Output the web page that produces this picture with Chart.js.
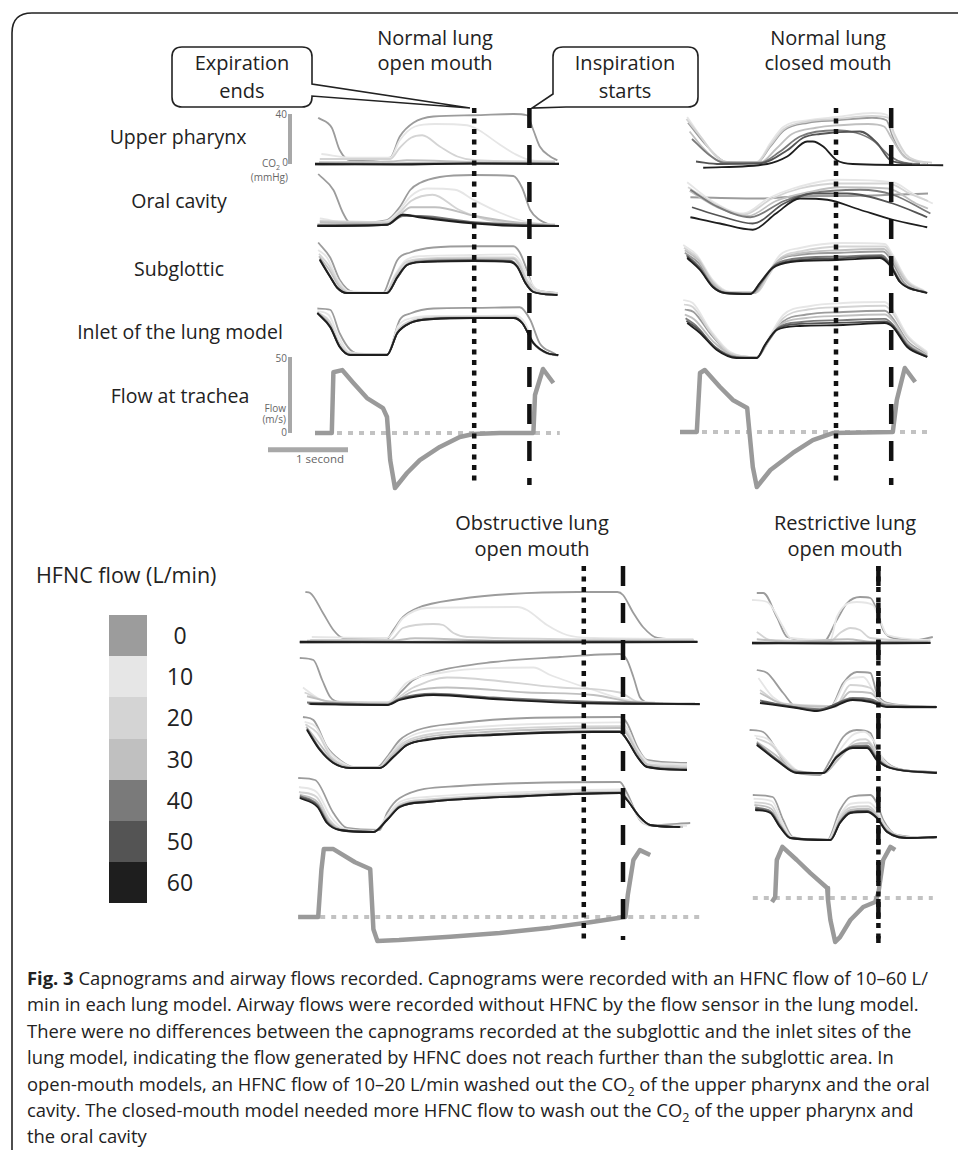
<!DOCTYPE html>
<html>
<head>
<meta charset="utf-8">
<script src="https://cdn.jsdelivr.net/npm/chart.js@4.4.1/dist/chart.umd.min.js"></script>
<style>
  body { margin: 0; background: #fff; font-family: "Open Sans", sans-serif; color: #222; }
  #fig { position: relative; width: 958px; height: 1150px; overflow: hidden; }
  canvas { position: absolute; }
  .t { position: absolute; white-space: nowrap; transform: translate(-50%, -50%); line-height: 1; }
  .ttl { font-size: 20px; }
  .row { font-size: 19.5px; }
  .sm { font-size: 10px; color: #666; }
  .r { transform: translate(-100%, -50%); }
  .sw { position: absolute; left: 109px; width: 38px; }
  .cap { position: absolute; left: 27px; top: 965px; font-size: 18.4px; line-height: 26.4px; color: #222; }
  .cap div { white-space: nowrap; }
  .cap sub { line-height: 0; font-size: 0.68em; }
  svg { position: absolute; left: 0; top: 0; }
</style>
</head>
<body>
<div id="fig">
  <svg width="958" height="1150">
    <path d="M12 1150 L12 33 Q12 13 32 13 L958 13" fill="none" stroke="#222" stroke-width="1.6"/>
    <path d="M182 47 H302 Q312 47 312 57 V84 L470 108 L312 96 V97 Q312 107 302 107 H182 Q172 107 172 97 V57 Q172 47 182 47 Z" fill="#fff" stroke="#222" stroke-width="1.6"/>
    <path d="M563 47 H688 Q698 47 698 57 V97 Q698 107 688 107 H566 L532 108 L553 94 V57 Q553 47 563 47 Z" fill="#fff" stroke="#222" stroke-width="1.6"/>
  </svg>

  <div class="t ttl" style="left:435px;top:38px">Normal lung</div>
  <div class="t ttl" style="left:435px;top:63px">open mouth</div>
  <div class="t ttl" style="left:828px;top:38px">Normal lung</div>
  <div class="t ttl" style="left:828px;top:63px">closed mouth</div>
  <div class="t ttl" style="left:532px;top:523px">Obstructive lung</div>
  <div class="t ttl" style="left:532px;top:549px">open mouth</div>
  <div class="t ttl" style="left:845px;top:523px">Restrictive lung</div>
  <div class="t ttl" style="left:845px;top:549px">open mouth</div>

  <div class="t ttl" style="left:242px;top:63px">Expiration</div>
  <div class="t ttl" style="left:242px;top:91px">ends</div>
  <div class="t ttl" style="left:625px;top:63px">Inspiration</div>
  <div class="t ttl" style="left:625px;top:91px">starts</div>

  <div class="t row" style="left:178px;top:137px">Upper pharynx</div>
  <div class="t row" style="left:179px;top:201px">Oral cavity</div>
  <div class="t row" style="left:179px;top:269px">Subglottic</div>
  <div class="t row" style="left:180px;top:332px">Inlet of the lung model</div>
  <div class="t row" style="left:180px;top:396px">Flow at trachea</div>

  <div class="t sm r" style="left:287px;top:114px">40</div>
  <div class="t sm r" style="left:288px;top:162px">0</div>
  <div class="t sm r" style="left:280px;top:164px">CO<sub style="font-size:7px">2</sub></div>
  <div class="t sm r" style="left:288px;top:177px">(mmHg)</div>
  <div class="t sm r" style="left:287px;top:358px">50</div>
  <div class="t sm r" style="left:287px;top:432px">0</div>
  <div class="t sm r" style="left:286px;top:408px">Flow</div>
  <div class="t sm r" style="left:286px;top:419px">(m/s)</div>
  <div class="t sm" style="left:320px;top:459px;font-size:11.5px">1 second</div>

  <div class="t" style="left:36px;top:575px;transform:translate(0,-50%);font-size:21.5px">HFNC flow (L/min)</div>
  <div id="legend"></div>

  <div class="cap">
    <div><b>Fig. 3</b> Capnograms and airway flows recorded. Capnograms were recorded with an HFNC flow of 10–60 L/</div>
    <div>min in each lung model. Airway flows were recorded without HFNC by the flow sensor in the lung model.</div>
    <div>There were no differences between the capnograms recorded at the subglottic and the inlet sites of the</div>
    <div>lung model, indicating the flow generated by HFNC does not reach further than the subglottic area. In</div>
    <div>open-mouth models, an HFNC flow of 10–20 L/min washed out the CO<sub>2</sub> of the upper pharynx and the oral</div>
    <div>cavity. The closed-mouth model needed more HFNC flow to wash out the CO<sub>2</sub> of the upper pharynx and</div>
    <div>the oral cavity</div>
  </div>
</div>

<script>
// scale of the drawing
const SEC_PX = 80;      // px per second
const CO2_PX = 1.25;    // px per mmHg
const FLOW_PX = 1.52;   // px per m/s

// HFNC flow levels and their grey shades
const flowLevels = [0, 10, 20, 30, 40, 50, 60];
const levelColors = ['#9c9c9c', '#e6e6e6', '#d4d4d4', '#c0c0c0', '#7a7a7a', '#545454', '#1e1e1e'];

// ---------- Normal lung, open mouth  (time s, CO2 mmHg / flow m/s) ----------
const noUpper = [
  [[0.04,37],[0.21,29],[0.31,11],[0.44,3],[0.94,5],[1.06,22],[1.23,33],[1.48,38],[1.98,39],[2.48,40],[2.65,39],[2.73,27],[2.81,14],[2.94,6],[3.03,3]],
  [[0.08,8],[0.5,5],[0.94,5],[1.06,19],[1.25,30],[1.5,32],[1.9,31],[2.05,27],[2.3,16],[2.5,8],[2.7,3],[3.0,2]],
  [[0.06,4],[0.94,4],[1.06,13],[1.2,21],[1.34,23],[1.56,14],[1.78,6],[2.0,3],[3.0,2]],
  [[0.05,1.5],[0.94,2],[1.15,3],[2.0,1.5],[3.0,1]],
  [[0.0,0.5],[1.5,0],[3.05,0.5]],
  [[0.0,-0.5],[1.5,0.5],[3.05,0]],
  [[0.0,0],[1.0,-0.5],[2.0,0.5],[3.05,0]]
];
const noOral = [
  [[0.04,41.6],[0.23,28.8],[0.35,10.4],[0.44,2.4],[0.9,4.8],[1.06,15.2],[1.19,28.8],[1.31,34.4],[1.56,39.2],[1.98,40.8],[2.48,40],[2.59,30.4],[2.69,12.8],[2.81,4.8],[2.98,0]],
  [[0.06,6],[0.5,2],[0.9,4],[1.06,13],[1.2,24],[1.4,30],[1.75,29],[1.98,21],[2.3,11],[2.6,4],[3.0,1]],
  [[0.06,4],[0.9,3],[1.06,11],[1.2,20],[1.47,25],[1.8,13],[2.15,5],[3.0,1]],
  [[0.06,3],[0.9,2],[1.06,9],[1.2,15],[1.5,15],[2.0,8],[2.5,3],[3.0,1]],
  [[0.03,1],[0.9,1],[1.1,8],[1.3,8],[2.0,3],[2.6,1],[3.05,0]],
  [[0.03,0],[0.9,1],[1.1,9],[1.25,8],[2.0,2.5],[3.05,0]],
  [[0.03,0],[0.9,1],[1.1,9],[1.3,7],[2.0,2],[2.6,0],[3.05,0]]
];
const noSub = [
  [[0.04,42],[0.19,30],[0.31,12],[0.48,2.4],[0.85,1.6],[0.94,14],[1.03,28],[1.19,34],[1.48,38],[1.98,39],[2.48,39],[2.56,34],[2.65,20],[2.73,6],[2.9,2.4],[3.03,1.6]],
  [[0.04,36],[0.15,30],[0.28,13],[0.42,3],[0.88,2],[1.0,16],[1.12,27],[1.3,31],[1.98,32],[2.48,32.5],[2.56,28],[2.66,15],[2.76,5],[2.95,2],[3.03,1.5]],
  [[0.05,33],[0.17,24],[0.3,9],[0.42,2],[0.88,1.6],[1.0,15],[1.13,26],[1.35,29],[1.98,30],[2.48,30],[2.56,25],[2.65,12],[2.76,4],[3.03,1]],
  [[0.05,31],[0.18,20],[0.3,7],[0.42,1.6],[0.9,1.6],[1.02,15],[1.15,25],[1.35,28],[1.98,29],[2.48,29],[2.55,24],[2.64,11],[2.74,3],[3.03,0.8]],
  [[0.06,29],[0.19,15],[0.28,6],[0.4,1.6],[0.9,1.6],[1.03,14],[1.15,24],[1.35,27],[1.98,28],[2.44,27.5],[2.53,23],[2.63,10],[2.73,2.4],[3.03,0]],
  [[0.06,28.5],[0.19,14.5],[0.28,5.6],[0.4,1.6],[0.9,1.6],[1.03,14],[1.15,24],[1.35,26.5],[1.98,27.5],[2.44,27],[2.53,22.5],[2.63,9.6],[2.73,2.4],[3.03,0]],
  [[0.06,28],[0.19,14.4],[0.28,5.6],[0.4,1.6],[0.9,1.6],[1.03,14.4],[1.15,24],[1.35,26.4],[1.98,27.2],[2.44,26.4],[2.53,22.4],[2.63,9.6],[2.73,2.4],[3.03,0]]
];
const noInlet = [
  [[0.03,38],[0.19,37],[0.31,18],[0.44,5],[0.6,1],[0.9,1],[1.06,29],[1.19,34],[1.48,38],[1.98,38.5],[2.56,39],[2.69,29],[2.81,10],[2.98,2.4],[3.04,0]],
  [[0.03,36],[0.17,33],[0.3,15],[0.43,3],[0.9,1],[1.04,24],[1.19,30],[1.48,32],[1.98,32],[2.5,32.5],[2.62,27],[2.74,10],[2.9,2.4],[3.04,0.5]],
  [[0.03,35],[0.18,28],[0.3,11],[0.44,2],[0.9,1],[1.04,21],[1.19,28],[1.48,31],[1.98,31.5],[2.5,31.5],[2.6,26],[2.73,10],[2.9,2],[3.04,0.5]],
  [[0.03,35],[0.19,25],[0.31,8],[0.44,1],[0.9,1],[1.03,19],[1.19,27],[1.48,30.5],[1.98,31],[2.5,31],[2.6,26],[2.73,10],[2.9,2],[3.04,0.5]],
  [[0.03,34.5],[0.19,23.5],[0.31,7.5],[0.44,1],[0.9,1],[1.03,18.5],[1.19,26.5],[1.48,30],[1.98,30.5],[2.48,30.5],[2.59,26.5],[2.73,10.5],[2.9,2.4],[3.04,0.8]],
  [[0.03,34],[0.19,23],[0.31,7],[0.44,0.8],[0.9,0.8],[1.03,18.4],[1.19,26.4],[1.48,29.6],[1.98,30.4],[2.48,30.4],[2.59,26.4],[2.73,10.4],[2.9,2.4],[3.04,0.8]],
  [[0.03,34.4],[0.19,23.2],[0.31,7.2],[0.44,0.8],[0.9,0.8],[1.03,18.4],[1.19,26.4],[1.48,29.6],[1.98,30.4],[2.48,30.4],[2.59,26.4],[2.73,10.4],[2.9,2.4],[3.04,0.8]]
];
const noFlow = [[0,0],[0.21,0],[0.23,40],[0.34,41.4],[0.48,32.9],[0.65,23],[0.85,16.4],[0.9,10.5],[0.94,-17.8],[1.0,-36.2],[1.15,-26.3],[1.31,-17.8],[1.56,-9.2],[1.81,-2.6],[1.98,-0.7],[2.31,0],[2.73,0],[2.75,25],[2.85,42.1],[2.98,32.9]];
const noEvents = [1.99, 2.68];     // expiration ends, inspiration starts
const noZero = [0, 3.06];

// ---------- Normal lung, closed mouth ----------
const ncUpper = [
  [[0.1,33],[0.3,17],[0.5,4],[0.6,1],[0.96,1],[1.13,14],[1.3,27],[1.6,33],[1.96,35],[2.4,37],[2.58,35],[2.66,22],[2.8,7],[2.95,2],[3.1,0.5]],
  [[0.09,37.6],[0.29,19.2],[0.46,5.6],[0.59,1.6],[0.96,1.6],[1.13,16.8],[1.29,29.6],[1.63,35.2],[1.96,37.6],[2.41,40.8],[2.59,39.2],[2.66,24.8],[2.79,8.8],[2.91,3.2],[3.09,0.8]],
  [[0.08,36],[0.28,20],[0.45,6],[0.6,1.5],[0.96,1.5],[1.13,15],[1.3,28],[1.6,34],[1.96,36],[2.4,38.5],[2.6,37],[2.68,24],[2.82,8],[2.95,3],[3.15,1]],
  [[0.12,26],[0.3,12],[0.5,2],[1.0,1],[1.2,12],[1.4,24],[1.7,29],[2.0,31],[2.35,32],[2.55,30],[2.65,20],[2.8,6],[3.0,1]],
  [[0.15,20],[0.35,8],[0.55,1],[1.0,1],[1.25,10],[1.5,22],[1.96,27],[2.2,25],[2.41,19],[2.63,6],[2.8,1],[3.0,0]],
  [[0.2,2],[0.5,0],[1.0,0.5],[1.34,11],[1.54,21],[1.75,24],[2.25,26],[2.46,17],[2.63,3],[2.9,0]],
  [[0.29,-3],[1.09,0],[1.34,6],[1.59,18],[1.66,18],[1.79,14],[1.96,3],[2.16,0],[3.29,-1]]
];
const ncOral = [
  [[0.13,23],[1.0,22],[1.6,24],[2.0,24],[3.1,26]],
  [[0.09,35],[0.4,20],[0.79,10],[1.1,22],[1.41,30],[1.96,37],[2.66,35],[2.91,26],[3.16,18]],
  [[0.1,31],[0.45,17],[0.8,9],[1.15,22],[1.5,30],[2.0,34],[2.6,34],[2.9,25],[3.1,20]],
  [[0.12,28],[0.5,14],[0.85,8],[1.2,20],[1.6,27],[2.0,31],[2.6,30],[2.95,18],[3.1,14]],
  [[0.13,29],[0.45,16],[0.88,7],[1.3,20],[1.63,26],[2.25,29],[2.66,25],[3.13,10]],
  [[0.15,15],[0.5,8],[0.91,2],[1.3,18],[1.66,26],[2.09,26],[2.66,18],[3.09,7]],
  [[0.13,7],[0.5,2],[0.91,-3],[1.2,10],[1.5,22],[1.84,21],[2.25,13],[2.66,5],[3.09,-1]]
];
const ncSub = [
  [[0.06,33],[0.23,25],[0.41,8],[0.6,1],[0.94,1],[1.07,12],[1.22,26],[1.45,31],[2.0,33],[2.54,34],[2.64,27],[2.8,9],[3.06,1.5]],
  [[0.04,39.2],[0.21,31.2],[0.41,11.2],[0.63,1.6],[0.96,1.6],[1.09,15.2],[1.25,31.2],[1.5,36.8],[2.04,40.8],[2.56,40],[2.66,31.2],[2.84,11.2],[3.06,2.4]],
  [[0.05,37],[0.22,29],[0.41,10],[0.62,1.5],[0.96,1.5],[1.1,14],[1.26,29],[1.5,34],[2.04,38],[2.56,38],[2.66,29],[2.84,10],[3.06,2]],
  [[0.06,35],[0.23,27],[0.41,9],[0.6,1],[0.94,1],[1.07,13],[1.23,27],[1.46,32],[2.0,35],[2.55,36],[2.65,28],[2.82,10],[3.06,1.5]],
  [[0.08,31],[0.24,22],[0.41,6],[0.58,1],[0.9,0.5],[1.03,10],[1.18,23],[1.4,28],[1.98,30],[2.52,31],[2.63,24],[2.77,9],[3.08,1]],
  [[0.09,30],[0.25,20],[0.41,6],[0.56,0.8],[0.88,0],[1.0,9],[1.16,21.5],[1.38,26.5],[1.96,28.5],[2.5,30],[2.63,23],[2.75,9.6],[3.09,1]],
  [[0.09,28.8],[0.25,19.2],[0.41,5.6],[0.56,0.8],[0.88,0],[1.0,8.8],[1.16,20.8],[1.38,25.6],[1.96,27.2],[2.5,28.8],[2.63,22.4],[2.75,9.6],[2.94,3.2],[3.09,0.8]]
];
const ncInlet = [
  [[0.06,38],[0.17,36],[0.4,17],[0.65,2],[0.96,0],[1.12,14],[1.28,28],[1.58,34],[2.04,36],[2.56,37],[2.66,31],[2.84,13],[3.09,2]],
  [[0.04,45.6],[0.16,43.2],[0.38,21.6],[0.63,4],[0.96,0],[1.13,17.6],[1.29,33.6],[1.63,40.8],[2.04,43.2],[2.56,44],[2.66,37.6],[2.84,17.6],[3.09,4]],
  [[0.05,42],[0.16,40],[0.38,20],[0.63,3],[0.96,0],[1.13,16],[1.29,31],[1.6,38],[2.04,40],[2.56,41],[2.66,35],[2.84,16],[3.09,3]],
  [[0.06,34],[0.18,30],[0.42,12],[0.67,1],[0.96,-0.5],[1.1,13],[1.26,26],[1.55,31],[2.04,33],[2.56,34],[2.66,29],[2.84,12],[3.09,1]],
  [[0.07,31],[0.2,25],[0.44,8],[0.7,0],[0.96,-0.5],[1.08,11],[1.24,24],[1.52,28],[2.04,29.5],[2.56,30.5],[2.66,26],[2.84,10],[3.09,0.5]],
  [[0.08,29],[0.23,22],[0.45,7],[0.7,-0.5],[0.96,-0.8],[1.07,10],[1.22,22.5],[1.5,26.5],[2.04,27.5],[2.56,28.5],[2.66,25],[2.84,9],[3.09,0]],
  [[0.09,27.2],[0.25,19.2],[0.46,5.6],[0.71,-0.8],[0.96,-0.8],[1.06,9.6],[1.21,21.6],[1.5,24.8],[2.04,25.6],[2.56,27.2],[2.66,24],[2.84,8],[3.09,0]]
];
const ncFlow = [[0,0],[0.21,0],[0.25,38.8],[0.31,40.8],[0.5,29.6],[0.66,21.1],[0.84,15.8],[0.85,9.9],[0.91,-23],[0.96,-36.2],[1.13,-25],[1.41,-13.8],[1.66,-5.3],[1.91,-0.7],[2.66,0],[2.71,21.1],[2.81,42.1],[2.94,32.9]];
const ncEvents = [1.95, 2.64];
const ncZero = [0, 3.1];

// ---------- Obstructive lung, open mouth ----------
const obUpper = [
  [[0.13,40],[0.19,39.2],[0.35,23.2],[0.48,9.6],[0.6,3.2],[1.15,2.4],[1.23,9.6],[1.35,20],[1.53,27.2],[2.06,34.4],[2.69,38.4],[3.53,40],[4.03,40],[4.1,37.6],[4.23,23.2],[4.35,12],[4.53,3.2],[4.98,1.6]],
  [[0.21,4],[1.15,3.2],[1.35,19.2],[1.65,27.2],[2.78,28],[2.9,25.6],[3.15,13.6],[3.4,5.6],[3.73,3.2],[4.98,2.4]],
  [[0.19,1.6],[1.19,1.6],[1.35,11.2],[1.73,14.4],[1.85,13.6],[1.98,7.2],[2.15,4],[4.98,1.6]],
  [[0.15,1],[1.2,1],[1.5,3],[2.5,1],[5.0,0.5]],
  [[0.06,0.5],[2.5,0],[5.03,0.5]],
  [[0.06,-0.5],[2.5,0.5],[5.03,0]],
  [[0.06,0],[2.5,-0.5],[5.03,0]]
];
const obOral = [
  [[0.06,37.6],[0.23,36],[0.34,20],[0.44,6.4],[0.56,2.4],[1.15,1.6],[1.31,9.6],[1.48,20],[1.73,26.4],[2.48,34.4],[3.31,38.4],[4.06,40.8],[4.15,36],[4.23,22.4],[4.31,6.4],[4.4,1.6]],
  [[0.1,14],[0.3,5],[0.6,2],[1.15,2],[1.4,18],[1.85,26],[2.98,30],[3.19,24],[3.73,12],[4.15,4],[4.5,2]],
  [[0.12,10],[0.4,3],[1.15,2],[1.48,14],[1.9,22],[3.31,14],[4.06,10],[4.31,2],[4.6,1]],
  [[0.15,7],[0.5,2],[1.15,1],[1.48,11],[1.9,14],[2.9,10],[3.73,8],[4.26,2],[4.6,1]],
  [[0.15,2],[1.15,0.5],[1.3,5],[1.73,9],[2.48,6],[3.5,3],[5.0,1]],
  [[0.17,1],[1.15,0],[1.31,4.5],[1.73,8.5],[2.48,5.4],[3.53,2],[5.06,0.5]],
  [[0.19,0.8],[1.15,0],[1.31,4],[1.73,8],[2.48,4.8],[3.53,1.6],[5.06,0.8]]
];
const obSub = [
  [[0.1,40.8],[0.23,38.4],[0.4,16.8],[0.56,6.4],[0.73,0.8],[1.03,0.8],[1.15,8.8],[1.31,22.4],[1.53,30.4],[2.06,36],[2.9,40],[4.06,40.8],[4.15,36],[4.28,16.8],[4.4,6.4],[4.9,4]],
  [[0.12,37],[0.26,33],[0.42,14],[0.6,4],[0.75,0.5],[1.05,0.5],[1.17,9],[1.33,21],[1.55,28],[2.1,32],[2.9,35],[4.06,36.5],[4.15,32],[4.28,15],[4.42,5],[4.9,3]],
  [[0.13,35],[0.28,28],[0.44,10],[0.62,2],[0.73,0],[1.05,0],[1.18,9],[1.35,20],[1.6,26],[2.2,30],[3.0,32.5],[4.06,33.5],[4.15,29],[4.28,13],[4.42,3],[4.9,1.5]],
  [[0.14,33],[0.3,20],[0.46,7],[0.65,1],[1.05,0],[1.2,9],[1.37,19],[1.62,24.5],[2.3,28.5],[3.2,31],[4.06,32],[4.15,27],[4.28,12],[4.42,2],[4.9,0]],
  [[0.15,31.5],[0.31,15.5],[0.48,4.5],[0.69,0],[1.06,0],[1.23,9],[1.4,18.5],[1.65,23],[2.48,27],[3.73,29.5],[4.06,29.5],[4.15,23],[4.28,9.5],[4.4,1],[4.9,-1]],
  [[0.15,31],[0.31,15],[0.48,4],[0.69,0],[1.06,0],[1.23,9],[1.4,18.5],[1.65,22.8],[2.48,26.8],[3.73,29],[4.06,29],[4.15,22.8],[4.28,9],[4.4,1],[4.9,-1.5]],
  [[0.15,30.4],[0.31,14.4],[0.48,4],[0.69,0],[1.06,0],[1.23,8.8],[1.4,18.4],[1.65,22.4],[2.48,26.4],[3.73,28.8],[4.06,28.8],[4.15,22.4],[4.28,8.8],[4.4,0.8],[4.9,-1.6]]
];
const obInlet = [
  [[0.04,43.2],[0.25,41.6],[0.48,15.2],[0.65,3.2],[1.06,1.6],[1.15,15.2],[1.31,27.2],[2.06,36.8],[4.06,40],[4.15,31.2],[4.31,9.6],[4.44,5.6],[4.94,7.2]],
  [[0.05,36],[0.27,32],[0.45,12],[0.62,2.5],[1.0,1],[1.15,13],[1.31,24],[1.65,28],[2.9,32],[4.06,34],[4.15,28],[4.31,10],[4.44,5],[4.9,5]],
  [[0.05,32],[0.27,28],[0.43,10],[0.6,2],[0.99,0.5],[1.15,11],[1.31,22],[1.65,26],[2.9,30.5],[4.06,32.5],[4.15,27],[4.31,11],[4.44,5],[4.85,4.5]],
  [[0.06,30],[0.28,24],[0.42,9],[0.58,2],[0.98,0],[1.15,10],[1.31,21],[1.65,25],[2.9,29.5],[4.06,32],[4.15,26.5],[4.31,12],[4.44,5.5],[4.85,4]],
  [[0.06,29],[0.28,22],[0.41,8],[0.57,1.6],[0.98,0],[1.15,10],[1.31,20.5],[1.65,24.5],[2.9,29],[4.06,31.5],[4.15,26],[4.31,12],[4.44,5.6],[4.82,4]],
  [[0.06,28],[0.28,21],[0.4,7.5],[0.56,1.6],[0.98,0],[1.15,9.6],[1.31,20],[1.65,24],[2.9,28.8],[4.06,31.2],[4.15,25.6],[4.31,12],[4.44,5.6],[4.81,4]],
  [[0.06,27.2],[0.28,20],[0.4,7.2],[0.56,1.6],[0.98,0],[1.15,9.6],[1.31,20],[1.65,24],[2.9,28.8],[4.06,31.2],[4.15,25.6],[4.31,12],[4.44,5.6],[4.81,4]]
];
const obFlow = [[0.04,0],[0.29,0],[0.33,31],[0.36,44.7],[0.48,44.7],[0.75,36],[0.94,31.6],[0.98,-8],[1.03,-15.8],[1.3,-15.2],[1.94,-13],[2.56,-10.5],[3.19,-7],[3.69,-3.5],[4.0,-1],[4.13,0],[4.16,14.5],[4.23,37.5],[4.31,44],[4.44,40.8]];
const obEvents = [3.61, 4.1];
const obZero = [0.04, 5.06];

// ---------- Restrictive lung, open mouth ----------
const reUpper = [
  [[0.06,40],[0.14,40],[0.31,20.8],[0.44,4.8],[0.89,0.8],[1.06,18.4],[1.19,32],[1.35,36.8],[1.48,36],[1.56,26.4],[1.64,10.4],[1.76,4],[2.06,2.4],[2.26,4.8]],
  [[0,34.4],[0.19,32.8],[0.39,12.8],[0.48,4],[0.98,2.4],[1.06,20.8],[1.31,32.8],[1.51,30.4],[1.6,18.4],[1.69,6.4],[2.23,2.4]],
  [[0.06,8.8],[0.23,2.4],[0.98,1.6],[1.1,8],[1.23,12],[1.35,10.4],[1.48,4],[2.23,1.6]],
  [[0.06,3],[0.5,1],[1.2,3],[1.5,1],[2.2,1]],
  [[0,0.5],[1.0,0],[2.23,0.5]],
  [[0,-0.5],[1.0,0.5],[2.23,0]],
  [[0,0],[1.0,-0.5],[2.23,0]]
];
const reOral = [
  [[0.06,30.4],[0.19,28],[0.39,12],[0.56,0.8],[0.98,0.8],[1.14,20],[1.31,28.8],[1.48,28],[1.56,12],[1.69,4],[2.31,0.8]],
  [[0.08,24],[0.26,8.8],[0.6,0.8],[0.98,0.8],[1.19,22.4],[1.39,24.8],[1.56,8.8],[1.73,0.8]],
  [[0.1,14.4],[0.35,4],[1.04,1.6],[1.23,18.4],[1.48,16],[1.64,4],[2.31,0.8]],
  [[0.1,12],[0.4,3],[1.04,1],[1.23,13],[1.48,12],[1.65,3],[2.31,0.5]],
  [[0.1,6],[0.5,1],[0.85,-1],[1.26,8],[1.48,7],[1.7,2],[2.3,1]],
  [[0.12,5],[0.55,0.5],[0.8,-2],[1.26,7],[1.5,5.5],[1.7,1],[2.3,0.5]],
  [[0.1,4],[0.56,0],[0.81,-2.4],[0.98,0],[1.26,6.4],[1.48,4.8],[1.69,0.8],[2.31,0.8]]
];
const reSub = [
  [[-0.03,34.4],[0.14,32.8],[0.31,18.4],[0.44,4.8],[0.56,0],[0.85,-1.6],[0.98,10.4],[1.14,28.8],[1.31,34.4],[1.48,32],[1.56,18.4],[1.69,8],[1.89,2.4],[2.31,0.8]],
  [[0.03,30],[0.2,27],[0.4,12],[0.6,1],[0.9,0],[1.05,14],[1.25,30],[1.4,33],[1.52,26],[1.65,10],[1.9,2],[2.3,0.5]],
  [[0.05,28],[0.25,22],[0.42,9],[0.6,0.5],[0.9,0],[1.08,12],[1.3,26],[1.42,27],[1.55,18],[1.7,6],[2.3,0.5]],
  [[0.06,25],[0.3,14],[0.5,3],[0.9,0],[1.08,11],[1.28,23],[1.45,24],[1.56,14],[1.72,4],[2.3,0]],
  [[0.06,24],[0.33,10],[0.54,1],[0.89,0],[1.06,13.5],[1.26,21.5],[1.44,22],[1.56,12],[1.72,4.5],[2.31,0.5]],
  [[0.06,23],[0.34,9],[0.55,0.5],[0.89,0],[1.06,13],[1.26,20.8],[1.44,21],[1.56,11],[1.73,4],[2.31,0]],
  [[0.06,22.4],[0.35,8],[0.56,0],[0.89,0],[1.06,12.8],[1.26,20],[1.44,20],[1.56,10.4],[1.73,4],[2.31,0]]
];
const reInlet = [
  [[0.01,36],[0.26,34.4],[0.39,16],[0.51,2.4],[0.94,0],[1.1,24],[1.23,34.4],[1.48,36],[1.56,29.6],[1.64,16],[1.81,4],[2.31,1.6]],
  [[0.02,33],[0.25,31],[0.38,14],[0.5,2],[0.95,0],[1.1,20],[1.23,29],[1.46,30],[1.56,24],[1.66,12],[1.85,3],[2.31,1.5]],
  [[0.03,30],[0.24,28],[0.37,12],[0.49,2],[0.96,0],[1.1,18],[1.23,26],[1.45,27],[1.56,21],[1.67,10],[1.9,2.5],[2.31,1.5]],
  [[0.03,28],[0.24,25],[0.36,11],[0.49,1.8],[0.97,0],[1.1,16],[1.23,24],[1.45,25],[1.56,19.5],[1.68,8],[1.95,2],[2.31,2]],
  [[0.04,26],[0.23,23],[0.36,11],[0.48,1.6],[0.98,0],[1.1,14.5],[1.23,22.5],[1.44,23.5],[1.56,18],[1.69,7],[1.98,1.6],[2.31,2.4]],
  [[0.04,25],[0.23,22],[0.35,10.5],[0.48,1.6],[0.98,0],[1.1,14],[1.23,22],[1.44,23],[1.56,17.8],[1.69,6.4],[1.98,1.6],[2.31,2.4]],
  [[0.04,24],[0.23,21.6],[0.35,10.4],[0.48,1.6],[0.98,0],[1.1,13.6],[1.23,21.6],[1.44,22.4],[1.56,17.6],[1.69,6.4],[1.98,1.6],[2.31,2.4]]
];
const reFlow = [[0.25,-2.6],[0.29,0.7],[0.31,25],[0.38,33.6],[0.56,25],[0.73,16.4],[0.94,6.6],[0.95,-1.3],[0.98,-14.5],[1.04,-28.9],[1.1,-25.7],[1.23,-14.5],[1.39,-5.9],[1.54,-2.6],[1.58,3.3],[1.64,25],[1.73,33.6],[1.79,31.6]];
const reEvents = [1.58, 1.58];
const reZero = [0.01, 2.26];

// scale bars of the first panel
const CO2_BAR = 40;
const FLOW_BAR = 50;
const SEC_BAR = 1;

// ---------- layout (px on the page) ----------
const layout = {
  no: { left: 255, top: 100, width: 320, height: 395, x0: 315, rows: [164, 226, 295, 356, 433], lines: [108, 485] },
  nc: { left: 670, top: 100, width: 285, height: 395, x0: 680, rows: [164, 226, 294, 357, 432], lines: [108, 485] },
  ob: { left: 290, top: 555, width: 420, height: 400, x0: 295, rows: [642, 705, 768, 832, 917], lines: [566, 940] },
  re: { left: 745, top: 555, width: 200, height: 400, x0: 752, rows: [643, 708, 773, 840, 898], lines: [566, 943] }
};
const barT = (290 - 315) / SEC_PX;        // where the vertical scale bars sit
const secBarT = (268 - 315) / SEC_PX;
const secBarLevel = -11;                  // flow units below zero

function pts(a) { return a.map(p => ({ x: p[0], y: p[1] })); }

function buildPanel(p, rows, flow, events, zero, extras) {
  const cv = document.createElement('canvas');
  cv.width = p.width;
  cv.height = p.height;
  cv.style.left = p.left + 'px';
  cv.style.top = p.top + 'px';
  document.getElementById('fig').appendChild(cv);

  const scales = {
    x: { type: 'linear', axis: 'x', display: false, min: (p.left - p.x0) / SEC_PX, max: (p.left + p.width - p.x0) / SEC_PX },
    yv: { type: 'linear', axis: 'y', display: false, reverse: true, min: 0, max: p.height }
  };
  p.rows.forEach((base, i) => {
    const k = i === 4 ? FLOW_PX : CO2_PX;
    const b = base - p.top;
    scales['y' + i] = { type: 'linear', axis: 'y', display: false, min: -(p.height - b) / k, max: b / k };
  });

  const ds = [];
  // event lines on top: dotted = expiration ends, dashed = inspiration starts
  events.forEach((t, i) => {
    ds.push({
      data: [{ x: t, y: p.lines[0] - p.top }, { x: t, y: p.lines[1] - p.top }],
      yAxisID: 'yv', borderColor: '#111', borderWidth: 4.5,
      borderDash: i === 0 ? [5, 5.5] : [20, 17], borderCapStyle: 'butt'
    });
  });
  ds.push({ data: pts(flow), yAxisID: 'y4', borderColor: '#9a9a9a', borderWidth: 4.5, tension: 0, borderJoinStyle: 'round' });
  ds.push({ data: pts([[zero[0], 0], [zero[1], 0]]), yAxisID: 'y4', borderColor: '#c2c2c2', borderWidth: 4, borderDash: [5, 6], borderCapStyle: 'butt' });
  rows.forEach((series, r) => {
    for (let i = series.length - 1; i >= 0; i--) {
      ds.push({ data: pts(series[i]), yAxisID: 'y' + r, borderColor: levelColors[i], borderWidth: 1.8, cubicInterpolationMode: 'monotone' });
    }
  });
  (extras || []).forEach(e => ds.push(e));

  new Chart(cv, {
    type: 'line',
    data: { datasets: ds },
    options: {
      responsive: false,
      animation: false,
      events: [],
      layout: { padding: 0 },
      elements: { point: { radius: 0 }, line: { borderJoinStyle: 'round' } },
      plugins: { legend: { display: false }, tooltip: { enabled: false } },
      scales: scales
    }
  });
}

buildPanel(layout.no, [noUpper, noOral, noSub, noInlet], noFlow, noEvents, noZero, [
  { data: pts([[barT, 0], [barT, CO2_BAR]]), yAxisID: 'y0', borderColor: '#a8a8a8', borderWidth: 4, borderCapStyle: 'butt' },
  { data: pts([[barT, 0], [barT, FLOW_BAR]]), yAxisID: 'y4', borderColor: '#a8a8a8', borderWidth: 4, borderCapStyle: 'butt' },
  { data: pts([[secBarT, secBarLevel], [secBarT + SEC_BAR, secBarLevel]]), yAxisID: 'y4', borderColor: '#a8a8a8', borderWidth: 5, borderCapStyle: 'butt' }
]);
buildPanel(layout.nc, [ncUpper, ncOral, ncSub, ncInlet], ncFlow, ncEvents, ncZero);
buildPanel(layout.ob, [obUpper, obOral, obSub, obInlet], obFlow, obEvents, obZero);
buildPanel(layout.re, [reUpper, reOral, reSub, reInlet], reFlow, reEvents, reZero);

// HFNC legend swatches
const legend = document.getElementById('legend');
flowLevels.forEach((lv, i) => {
  const top = 615 + i * 41.2;
  const sw = document.createElement('div');
  sw.className = 'sw';
  sw.style.top = top + 'px';
  sw.style.height = '41.2px';
  sw.style.background = levelColors[i];
  legend.appendChild(sw);
  const lb = document.createElement('div');
  lb.className = 't';
  lb.style.left = '180px';
  lb.style.top = (top + 20) + 'px';
  lb.style.fontSize = '23px';
  lb.textContent = lv;
  legend.appendChild(lb);
});
</script>
</body>
</html>
